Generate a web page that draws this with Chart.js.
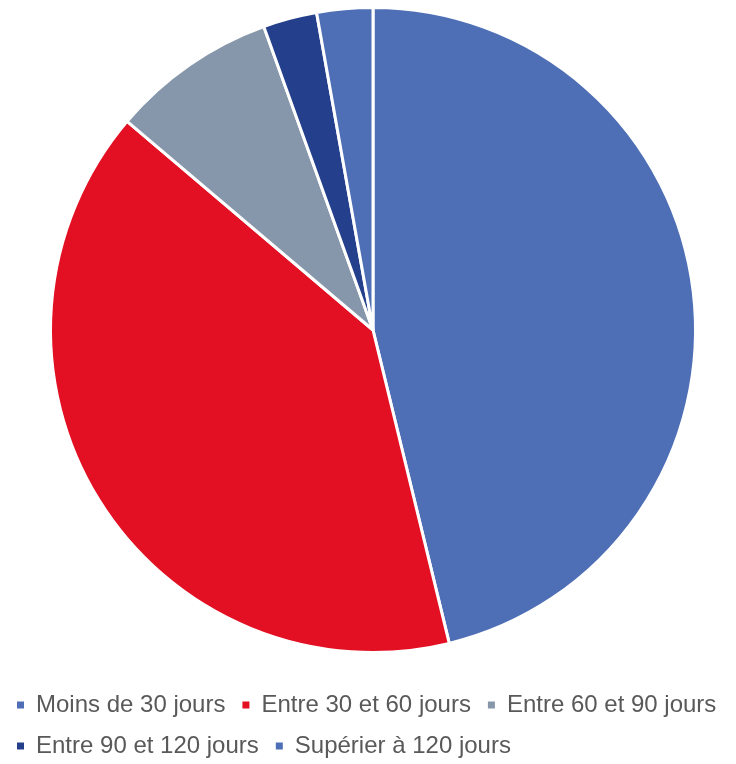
<!DOCTYPE html>
<html>
<head>
<meta charset="utf-8">
<script src="https://cdn.jsdelivr.net/npm/chart.js@4/dist/chart.umd.min.js"></script>
<style>
    html, body { margin: 0; padding: 0; background: #fff; overflow: hidden; }
    #wrap { width: 736px; height: 768px; position: relative; }
</style>
</head>
<body>
<div id="wrap"><canvas id="pie-chart"></canvas></div>
<script>
// Délais de paiement - répartition (%)
const categories = ['Moins de 30 jours', 'Entre 30 et 60 jours', 'Entre 60 et 90 jours', 'Entre 90 et 120 jours', 'Supérier à 120 jours'];
const shares = [46.2, 40.0, 8.3, 2.7, 2.8];
const colors = ['#4E6FB5', '#E31023', '#8797AB', '#243F8C', '#4E6FB5'];

// pie sits a bit right of centre and leaves a gap above the legend
const pieArea = {
    id: 'pieArea',
    afterLayout(chart) {
        const a = chart.chartArea;
        a.left = 10; a.right = 736;
        a.top = 6; a.bottom = 654;
        a.width = a.right - a.left;
        a.height = a.bottom - a.top;
    }
};

const ctx = document.getElementById('pie-chart').getContext('2d');
new Chart(ctx, {
    type: 'pie',
    data: {
        labels: categories,
        datasets: [{
            data: shares,
            backgroundColor: colors,
            borderColor: '#ffffff',
            borderWidth: 3
        }]
    },
    options: {
        responsive: true,
        maintainAspectRatio: false,
        animation: false,
        plugins: {
            tooltip: { enabled: false },
            legend: {
                position: 'bottom',
                align: 'start',
                labels: {
                    boxWidth: 7,
                    boxHeight: 7,
                    padding: 17,
                    color: '#595959',
                    font: { family: '"Liberation Sans", Arial, sans-serif', size: 24, lineHeight: 1 },
                    // plain filled squares, no white outline
                    generateLabels(chart) {
                        const items = Chart.overrides.pie.plugins.legend.labels.generateLabels(chart);
                        items.forEach(it => { it.lineWidth = 0; });
                        return items;
                    }
                }
            }
        }
    },
    plugins: [pieArea]
});
</script>
</body>
</html>
